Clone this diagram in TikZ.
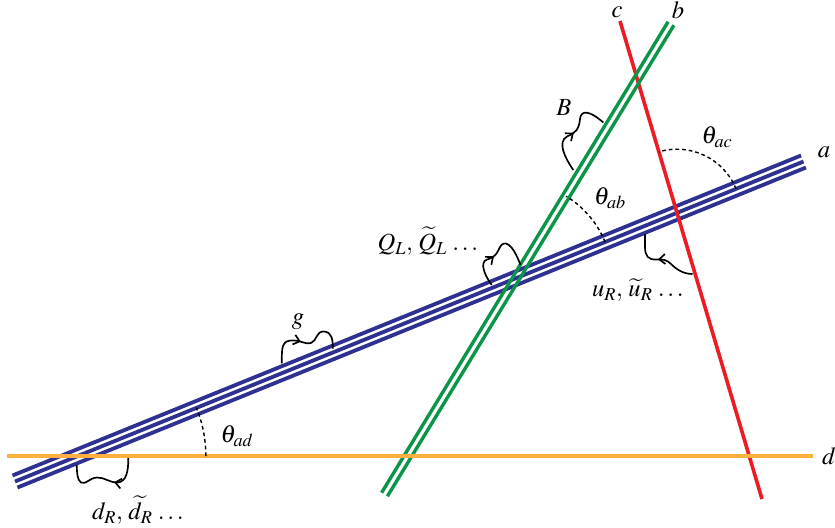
\documentclass[tikz,border=0pt]{standalone}
\usepackage{amsmath}
\usepackage{mathptmx}
\usepackage{tikz}
\usetikzlibrary{arrows.meta,calc,angles,decorations.markings}
\definecolor{braneblue}{HTML}{2E3192}
\definecolor{branegreen}{HTML}{0A9548}
\definecolor{branered}{HTML}{ED1C24}
\definecolor{braneorange}{HTML}{FBB040}
\tikzset{
  branea/.style   = {draw=braneblue, line width=1.14mm},
  braneb/.style   = {draw=branegreen, line width=1.02mm},
  branec/.style   = {draw=branered, line width=1.08mm},
  braned/.style   = {draw=braneorange, line width=1.2mm},
  ostring/.style  = {draw=black, line width=0.5mm, postaction={decorate},
                     decoration={markings, mark=at position #1 with
                     {\arrow{Straight Barb[length=1.8mm, width=3mm]}}}},
  angarc/.style   = {draw=black, line width=0.42mm, dash pattern=on 1.1mm off 0.9mm},
  lbl/.style      = {font=\fontsize{21}{24}\selectfont, inner sep=0pt},
}

\begin{document}
\begin{tikzpicture}[x=0.03cm, y=-0.03cm]
  \useasboundingbox (0,0) rectangle (835,527);
  % brane end points
  \coordinate (a1) at (15,481.5);   \coordinate (a2) at (803.5,161.5);
  \coordinate (b1) at (384.5,494.5); \coordinate (b2) at (671,23.5);
  \coordinate (c1) at (620,21);     \coordinate (c2) at (762,499);
  \coordinate (d1) at (7,456);      \coordinate (d2) at (813,456);
  \coordinate (ab) at (intersection of a1--a2 and b1--b2);
  \coordinate (ac) at (intersection of a1--a2 and c1--c2);
  \coordinate (ad) at (intersection of a1--a2 and d1--d2);
  % branes
  \foreach \s in {-1.95mm,0mm,1.95mm}
    \draw[branea] ($(a1)!\s!90:(a2)$) -- ($(a2)!\s!-90:(a1)$);
  \draw[branec] (c1) -- (c2);
  \foreach \s in {-1.02mm,1.02mm}
    \draw[braneb] ($(b1)!\s!90:(b2)$) -- ($(b2)!\s!-90:(b1)$);
  \draw[braned] (d1) -- (d2);
  % angles
  \path pic[angarc, angle radius=3.84cm] {angle = d2--ad--a2};
  \path pic[angarc, angle radius=2.88cm] {angle = a2--ab--b2};
  \path pic[angarc, angle radius=1.91cm] {angle = a2--ac--c1};
  % open strings
  \coordinate (g1) at (281.7,363.3);  \coordinate (g2) at (332.7,348.5);
  \draw[ostring=0.43] (g1) .. controls (282,350) and (281,341) .. (291,340.5)
    .. controls (302,340) and (305,345) .. (311,343)
    .. controls (317,341) and (316,331) .. (324,331.5)
    .. controls (332,332) and (333,340) .. (g2);
  \coordinate (B1) at (573.3,170);    \coordinate (B2) at (603.3,122.5);
  \draw[ostring=0.5] (B1) .. controls (565,158) and (557,142) .. (567,136.5)
    .. controls (575,133) and (579,130) .. (580,119)
    .. controls (581,110) and (589,110) .. (B2);
  \coordinate (Q1) at (491.7,285);    \coordinate (Q2) at (520.5,265);
  \draw[ostring=0.45] (Q1) .. controls (485,276) and (479,262) .. (487,259.5)
    .. controls (496,257) and (497,253) .. (500,247)
    .. controls (504,240) and (512,242) .. (Q2);
  \coordinate (U1) at (692.5,274);    \coordinate (U2) at (645,234);
  \draw[ostring=0.53] (U1) .. controls (684,274) and (677,270) .. (671,264)
    .. controls (667,260) and (663,259) .. (657,259.5)
    .. controls (648,260) and (645,256) .. (645,247) -- (U2);
  \coordinate (D1) at (128.3,458);    \coordinate (D2) at (76.7,465);
  \draw[ostring=0.38] (D1) .. controls (128.5,472) and (126,481.5) .. (118,482.5)
    .. controls (110,483) and (104,477) .. (97,477.5)
    .. controls (89,478) and (86,485) .. (81,482.5)
    .. controls (77,480) and (77,472) .. (D2);
  % labels
  \node[lbl] (la) at (824,152) {$a$};
  \node[lbl] (lb) at (678,10) {$b$};
  \node[lbl] (lc) at (617,12) {$c$};
  \node[lbl] (ld) at (829,456) {$d$};
  \node[lbl] (lB) at (564,108) {$B$};
  \node[lbl] (lg) at (298,322) {$g$};
  \node[lbl] (tac) at (717,137) {$\theta_{ac}$};
  \node[lbl] (tab) at (610,198) {$\theta_{ab}$};
  \node[lbl] (tad) at (237,436) {$\theta_{ad}$};
  \node[lbl] (lQ) at (428,241) {$Q_L,\,\widetilde{Q}_L\,\ldots$};
  \node[lbl] (lu) at (638,290) {$u_R,\,\widetilde{u}_R\,\ldots$};
  \node[lbl] (ldR) at (138,510) {$d_R,\,\widetilde{d}_R\,\ldots$};
\end{tikzpicture}
\end{document}
